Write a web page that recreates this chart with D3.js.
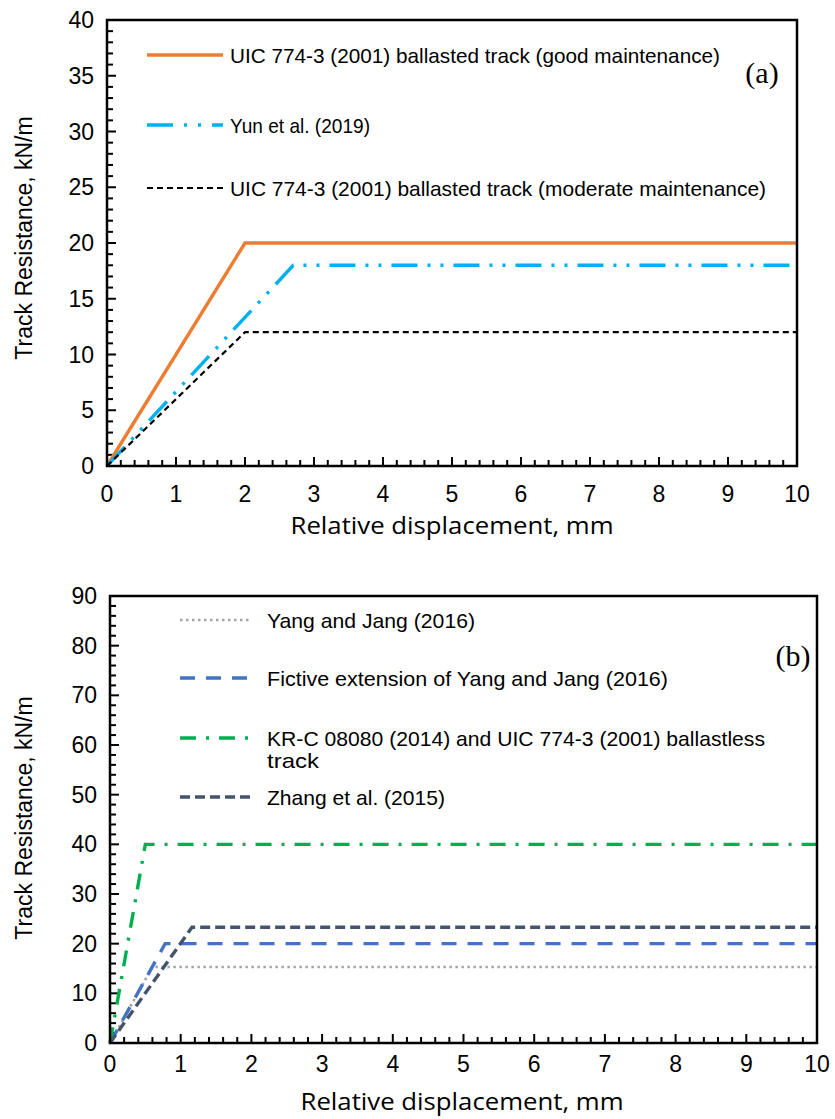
<!DOCTYPE html>
<html>
<head>
<meta charset="utf-8">
<script src="https://cdn.jsdelivr.net/npm/d3@7/dist/d3.min.js"></script>
<style>
html,body{margin:0;padding:0;background:#fff;}
svg{display:block;}
</style>
</head>
<body>
<svg id="chart" width="835" height="1119"></svg>
<script>
// ---------- DATA ----------
const xTicks = [0,1,2,3,4,5,6,7,8,9,10];
const yTicksA = [0,5,10,15,20,25,30,35,40];
const yTicksB = [0,10,20,30,40,50,60,70,80,90];

// Panel (a)
const uicGoodX = [0, 2, 10];
const uicGoodY = [0, 20, 20];
const yunX = [0, 2.7, 10];
const yunY = [0, 18, 18];
const uicModX = [0, 2, 10];
const uicModY = [0, 12, 12];

// Panel (b)
const yangX = [0, 0.6, 10];
const yangY = [0, 15.3, 15.3];
const fictiveX = [0, 0.78, 10];
const fictiveY = [0, 20, 20];
const krcX = [0, 0.5, 10];
const krcY = [0, 40, 40];
const zhangX = [0, 1.16, 10];
const zhangY = [0, 23.3, 23.3];

const labelsA = [
  "UIC 774-3 (2001) ballasted track (good maintenance)",
  "Yun et al. (2019)",
  "UIC 774-3 (2001) ballasted track (moderate maintenance)"
];
const labelsB = [
  "Yang and Jang (2016)",
  "Fictive extension of Yang and Jang (2016)",
  ["KR-C 08080 (2014) and UIC 774-3 (2001) ballastless", "track"],
  "Zhang et al. (2015)"
];

// ---------- DRAW ----------
const svg = d3.select("#chart");
const tickFont = "'Liberation Sans', Arial, sans-serif";
const narrowFont = "'Liberation Sans Narrow', 'Arial Narrow', 'Liberation Sans', sans-serif";
const xTitleFont = "'Open Sans', Carlito, Calibri, sans-serif";

function zip(xs, ys){ return xs.map((x,i)=>[x, ys[i]]); }

function panel(cfg){
  const g = svg.append("g");
  const x = d3.scaleLinear().domain([0,10]).range([cfg.left, cfg.right]);
  const y = d3.scaleLinear().domain([0,cfg.ymax]).range([cfg.bottom, cfg.top]);

  // ticks (inward), minor + major
  const xMinor = d3.range(0, 10.001, 0.2);
  const yMinor = d3.range(0, cfg.ymax + 0.001, cfg.yMinor);
  const isMajor = (v, step) => Math.abs(v/step - Math.round(v/step)) < 1e-6;
  const tg = g.append("g").attr("stroke","#000").attr("stroke-width",2);
  tg.selectAll("line.xt").data(xMinor).join("line").attr("class","xt")
    .attr("x1", d=>x(d)).attr("x2", d=>x(d))
    .attr("y1", cfg.bottom).attr("y2", d=>cfg.bottom - (isMajor(d,1) ? 9 : 6));
  tg.selectAll("line.yt").data(yMinor).join("line").attr("class","yt")
    .attr("y1", d=>y(d)).attr("y2", d=>y(d))
    .attr("x1", cfg.left).attr("x2", d=>cfg.left + (isMajor(d,cfg.yTicks[1]) ? 9 : 6));

  // tick labels
  g.append("g").selectAll("text").data(cfg.xTicks).join("text")
    .attr("x", d=>x(d)).attr("y", cfg.bottom + cfg.xLabelOff)
    .attr("text-anchor","middle").attr("dominant-baseline","central")
    .attr("font-family", tickFont).attr("font-size", 23).attr("fill","#000")
    .text(d=>d);
  g.append("g").selectAll("text").data(cfg.yTicks).join("text")
    .attr("x", cfg.left - 13).attr("y", d=>y(d))
    .attr("text-anchor","end").attr("dominant-baseline","central")
    .attr("font-family", tickFont).attr("font-size", 23).attr("fill","#000")
    .text(d=>d);

  // axis titles
  g.append("text").attr("x", cfg.xTitleX).attr("y", cfg.bottom + cfg.xTitleOff)
    .attr("text-anchor","middle").attr("dominant-baseline","central")
    .attr("font-family", xTitleFont).attr("font-size", 24).attr("fill","#000")
    .attr("textLength", 323).attr("lengthAdjust","spacingAndGlyphs")
    .text("Relative displacement, mm");
  g.append("text")
    .attr("transform", `translate(24,${cfg.yTitleY}) rotate(-90)`)
    .attr("text-anchor","middle").attr("dominant-baseline","central")
    .attr("font-family", tickFont).attr("font-size", 23).attr("fill","#000")
    .text("Track Resistance, kN/m");

  // series
  const line = d3.line().x(d=>x(d[0])).y(d=>y(d[1]));
  cfg.series.forEach(s=>{
    g.append("path").datum(zip(s.x, s.y)).attr("d", line)
      .attr("fill","none").attr("stroke", s.color).attr("stroke-width", s.width)
      .attr("stroke-dasharray", s.dash).attr("stroke-linecap", s.cap || "butt")
      .attr("stroke-linejoin","miter");
  });

  // frame
  g.append("rect").attr("x", cfg.left).attr("y", cfg.top)
    .attr("width", cfg.right-cfg.left).attr("height", cfg.bottom-cfg.top)
    .attr("fill","none").attr("stroke","#000").attr("stroke-width",2.5);

  // legend
  cfg.series.forEach((s,i)=>{
    const ly = cfg.legend.ys[i];
    g.append("line").attr("x1", cfg.legend.x1).attr("x2", s.legX2 || cfg.legend.x2)
      .attr("y1", ly).attr("y2", ly)
      .attr("stroke", s.color).attr("stroke-width", s.width)
      .attr("stroke-dasharray", s.legDash || s.dash).attr("stroke-linecap", s.cap || "butt");
    const lab = cfg.labels[i];
    const lines = Array.isArray(lab) ? lab : [lab];
    lines.forEach((t,k)=>{
      const tx = g.append("text").attr("x", cfg.legend.tx).attr("y", ly + k*22)
        .attr("dominant-baseline","central")
        .attr("font-family", narrowFont).attr("font-size", 21).attr("fill","#000")
        .text(t);
      const w = cfg.legend.widths[i];
      if (w && w[k]) tx.attr("textLength", w[k]).attr("lengthAdjust","spacingAndGlyphs");
    });
  });

  // panel tag
  g.append("text").attr("x", cfg.tag.x).attr("y", cfg.tag.y)
    .attr("text-anchor","middle").attr("dominant-baseline","central")
    .attr("font-family","'Liberation Serif', 'Times New Roman', serif").attr("font-size", 30)
    .attr("fill","#000").text(cfg.tag.text);
}

panel({
  left:107, right:797, top:20, bottom:466, ymax:40, yMinor:1,
  xTicks, yTicks:yTicksA, xLabelOff:28, xTitleOff:58, xTitleX:452, yTitleY:238,
  series:[
    {x:uicGoodX, y:uicGoodY, color:"#ED7D31", width:3.4, dash:null},
    {x:yunX, y:yunY, color:"#00B0F0", width:3.4, dash:"26,10,3,10,3,10", legDash:"26,11,3,11,3,11"},
    {x:uicModX, y:uicModY, color:"#000000", width:2.2, dash:"6,4"}
  ],
  labels: labelsA,
  legend:{x1:147, x2:223, tx:230, ys:[55,125,188], widths:[[490],[140],[536]]},
  tag:{x:762, y:72, text:"(a)"}
});

panel({
  left:110, right:817, top:596, bottom:1043, ymax:90, yMinor:2,
  xTicks, yTicks:yTicksB, xLabelOff:21, xTitleOff:57, xTitleX:462, yTitleY:818,
  series:[
    {x:yangX, y:yangY, color:"#A5A5A5", width:2.6, dash:"2.5,3.5"},
    {x:fictiveX, y:fictiveY, color:"#4472C4", width:3.4, dash:"15,11"},
    {x:krcX, y:krcY, color:"#00B050", width:3.4, dash:"16,10,3,10", legDash:"16,10,3,10"},
    {x:zhangX, y:zhangY, color:"#44546A", width:3.4, dash:"10,5"}
  ],
  labels: labelsB,
  legend:{x1:180, x2:252, tx:267, ys:[620,678,738,797], widths:[[208],[401],[498,52],[178]]},
  tag:{x:793, y:655, text:"(b)"}
});
</script>
</body>
</html>
